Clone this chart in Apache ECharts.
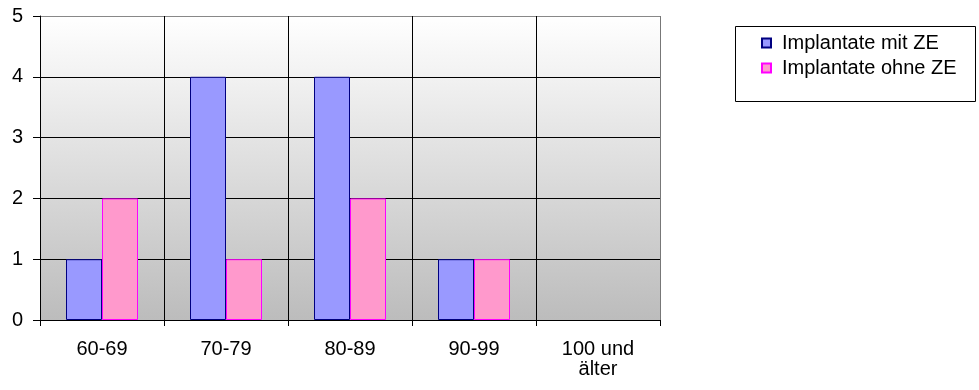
<!DOCTYPE html>
<html>
<head>
<meta charset="utf-8">
<script src="https://cdn.jsdelivr.net/npm/echarts@6/dist/echarts.min.js"></script>
<style>
  html, body { margin: 0; padding: 0; background: #fff; }
  #chart { width: 979px; height: 390px; }
</style>
</head>
<body>
<div id="chart"></div>
<script>
// Age groups and implant counts per group
const categories = ['60-69', '70-79', '80-89', '90-99', '100 und\nälter'];
const mitZE = [1, 4, 4, 1, 0];
const ohneZE = [2, 1, 2, 1, 0];
const seriesNames = ['Implantate mit ZE', 'Implantate ohne ZE'];
const yTicks = [0, 1, 2, 3, 4, 5];

const chart = echarts.init(document.getElementById('chart'));
const font = 'Arial, "Liberation Sans", sans-serif';

// zero-height bars get no outline
const barData = (values) => values.map(v => v === 0 ? { value: v, itemStyle: { borderWidth: 0 } } : v);

chart.setOption({
  animation: false,
  textStyle: { fontFamily: font },
  grid: {
    left: 40, top: 16, width: 620, height: 304,
    show: true,
    borderWidth: 0,
    backgroundColor: new echarts.graphic.LinearGradient(0, 0, 0, 1, [
      { offset: 0, color: '#ffffff' },
      { offset: 1, color: '#bcbcbc' }
    ])
  },
  legend: {
    orient: 'vertical',
    left: 756, top: 28,
    itemWidth: 9, itemHeight: 9,
    itemGap: 5,
    icon: 'rect',
    textStyle: { fontFamily: font, fontSize: 20, color: '#000', padding: [0, 0, 0, 6] },
    data: seriesNames
  },
  graphic: [{
    type: 'rect',
    shape: { x: 735.5, y: 26.5, width: 240, height: 75 },
    style: { fill: 'none', stroke: '#000', lineWidth: 1 },
    z: -1
  }],
  xAxis: {
    type: 'category',
    data: categories,
    boundaryGap: true,
    axisLine: { lineStyle: { color: '#000', width: 1 } },
    axisTick: { show: true, length: 6, lineStyle: { color: '#000' } },
    axisLabel: { color: '#000', fontSize: 20, fontFamily: font, margin: 19, lineHeight: 20 },
    splitLine: { show: true, lineStyle: { color: ['#000', '#000', '#000', '#000', '#000', '#777'], width: 1 } }
  },
  yAxis: {
    type: 'value',
    min: yTicks[0], max: yTicks[yTicks.length - 1], interval: 1,
    axisLine: { show: true, lineStyle: { color: '#000', width: 1 } },
    axisTick: { show: true, length: 7, lineStyle: { color: '#000' } },
    axisLabel: { color: '#000', fontSize: 20, fontFamily: font, margin: 17 },
    splitLine: { show: true, lineStyle: { color: ['#000', '#000', '#000', '#000', '#000', '#888'], width: 1 } }
  },
  series: [
    {
      name: seriesNames[0], type: 'bar', data: barData(mitZE),
      barWidth: 36, barGap: '0%',
      itemStyle: { color: '#9999ff', borderColor: '#000080', borderWidth: 1 }
    },
    {
      name: seriesNames[1], type: 'bar', data: barData(ohneZE),
      barWidth: 36,
      itemStyle: { color: '#ff99cc', borderColor: '#ff00ff', borderWidth: 1 }
    }
  ]
});
</script>
</body>
</html>
